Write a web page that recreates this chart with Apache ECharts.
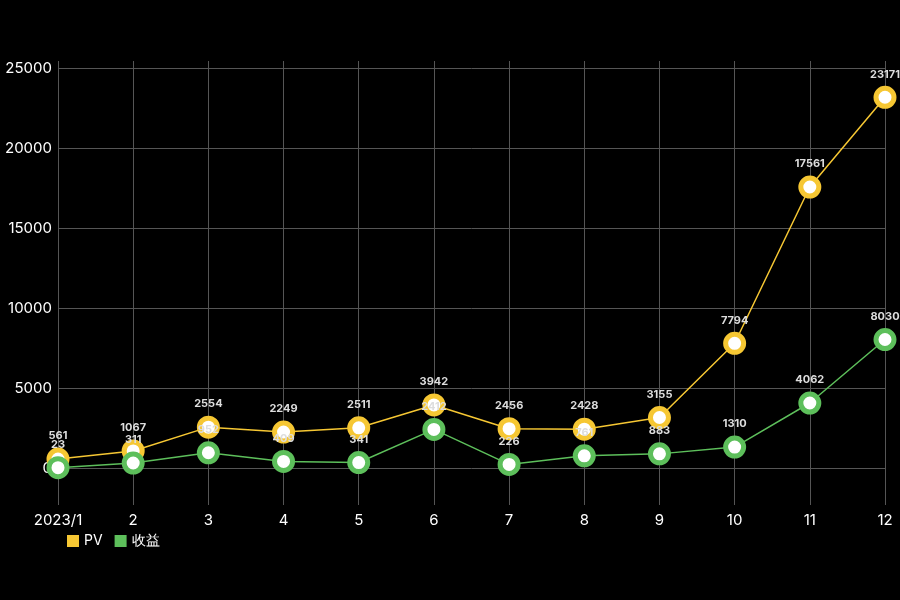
<!DOCTYPE html>
<html><head><meta charset="utf-8">
<script src="https://cdn.jsdelivr.net/npm/echarts@6/dist/echarts.min.js"></script>
<style>html,body{margin:0;padding:0;background:#000}#c{width:900px;height:600px}</style>
</head><body><div id="c"></div>
<script>
const categories = ['2023/1','2','3','4','5','6','7','8','9','10','11','12'];
const pvValues = [561, 1067, 2554, 2249, 2511, 3942, 2456, 2428, 3155, 7794, 17561, 23171];
const revenueValues = [23, 311, 952, 409, 341, 2412, 226, 761, 883, 1310, 4062, 8030];
const seriesNames = ['PV', '收益'];
const colors = ['#F6C733', '#5DBF5B'];

const chart = echarts.init(document.getElementById('c'));
const labelStyle = {show: true, position: 'top', distance: 6, color: '#dddddd', fontSize: 11, fontWeight: 'bold', fontFamily: 'Inter, Roboto, sans-serif'};
function mkSeries(name, data, color) {
  return {
    name, type: 'line', data,
    symbol: 'circle', symbolSize: 18,
    lineStyle: {color, width: 1.5},
    itemStyle: {color: '#ffffff', borderColor: color, borderWidth: 5},
    label: labelStyle,
    emphasis: {disabled: true}
  };
}
chart.setOption({
  backgroundColor: '#000000',
  animation: false,
  color: colors,
  textStyle: {fontFamily: 'Inter, Roboto, sans-serif'},
  grid: {left: 58, right: 15, top: 68, bottom: 132, containLabel: false},
  legend: {
    left: 62, top: 529, itemWidth: 12, itemHeight: 12, itemGap: 12,
    icon: 'rect',
    textStyle: {color: '#ffffff', fontSize: 14},
    data: [{name: 'PV', itemStyle: {color: colors[0], borderWidth: 0}}, {name: '收益', itemStyle: {color: colors[1], borderWidth: 0}}]
  },
  xAxis: [{
    type: 'category', data: categories, boundaryGap: false,
    axisLine: {show: false},
    axisTick: {show: true, length: 37, lineStyle: {color: '#555555'}},
    splitLine: {show: true, lineStyle: {color: '#555555', width: 1}},
    axisLabel: {color: '#ffffff', fontSize: 15, margin: 45}
  }, {
    type: 'category', data: categories, boundaryGap: false, position: 'top',
    axisLine: {show: false},
    axisTick: {show: true, length: 7, lineStyle: {color: '#555555'}},
    axisLabel: {show: false}
  }],
  yAxis: {
    type: 'value', min: 0, max: 25000, interval: 5000,
    axisLine: {show: false}, axisTick: {show: false},
    splitLine: {lineStyle: {color: '#555555', width: 1}},
    axisLabel: {color: '#ffffff', fontSize: 15, margin: 6, formatter: v => String(v)}
  },
  series: [mkSeries(seriesNames[0], pvValues, colors[0]), mkSeries(seriesNames[1], revenueValues, colors[1])]
});
</script></body></html>
